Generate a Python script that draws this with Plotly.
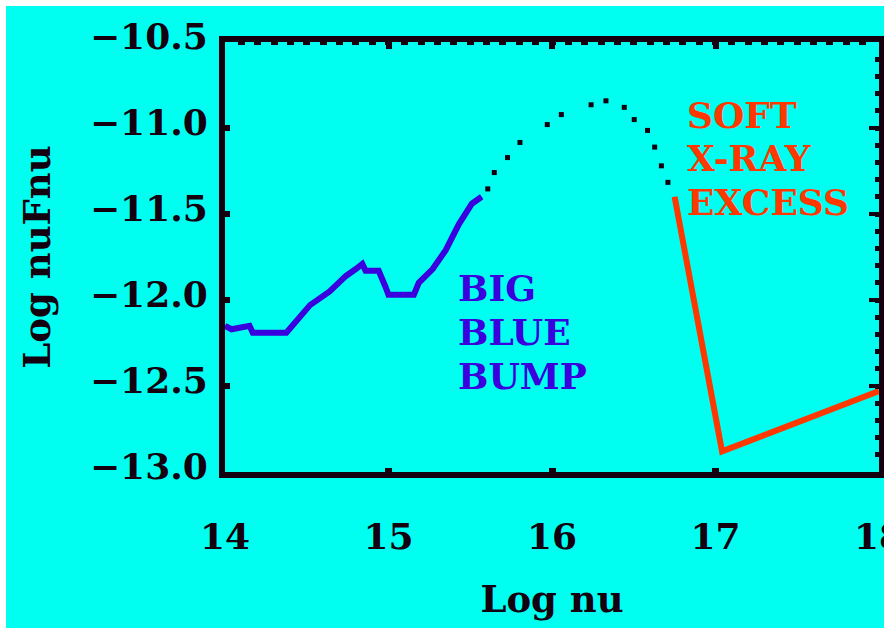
import plotly.graph_objects as go

# ---------------- data ----------------
bbb_x = [14.00, 14.04, 14.15, 14.17, 14.375, 14.52, 14.64, 14.74, 14.80, 14.84,
         14.86, 14.94, 14.98, 15.00, 15.155, 15.185, 15.27, 15.35, 15.43, 15.51, 15.57]
bbb_y = [-12.15, -12.17, -12.15, -12.19, -12.19, -12.03, -11.95, -11.86, -11.82, -11.79,
         -11.83, -11.83, -11.92, -11.97, -11.97, -11.90, -11.82, -11.71, -11.56, -11.44, -11.40]

model_x = [15.607, 15.647, 15.728, 15.804, 15.971, 16.057, 16.239, 16.330,
           16.442, 16.503, 16.584, 16.628, 16.669, 16.709]
model_y = [-11.354, -11.259, -11.172, -11.084, -10.980, -10.922, -10.865, -10.842,
           -10.880, -10.951, -11.014, -11.111, -11.220, -11.316]

sxe_x = [16.75, 17.04, 18.0]
sxe_y = [-11.40, -12.88, -12.53]

x_ticks = [14, 15, 16, 17, 18]
x_ticktext = ["14", "15", "16", "17", "18"]
y_ticks = [-13.0, -12.5, -12.0, -11.5, -11.0, -10.5]
y_ticktext = ["\u221213.0", "\u221212.5", "\u221212.0", "\u221211.5", "\u221211.0", "\u221210.5"]

bbb_label = ["BIG", "BLUE", "BUMP"]
bbb_label_y = [-11.931, -12.187, -12.444]
sxe_label = ["SOFT", "X-RAY", "EXCESS"]
sxe_label_y = [-10.923, -11.173, -11.429]

# ---------------- style ----------------
CYAN = "#00FFF0"
INK = "#14000F"
BLUE = "#3A00DD"
RED = "#FF3800"
FONT = "DejaVu Serif"

fig = go.Figure()
fig.add_trace(go.Scatter(x=bbb_x, y=bbb_y, mode="lines",
                         line=dict(color=BLUE, width=6), showlegend=False))
fig.add_trace(go.Scatter(x=model_x, y=model_y, mode="markers",
                         marker=dict(color=INK, symbol="square", size=5), showlegend=False))
fig.add_trace(go.Scatter(x=sxe_x, y=sxe_y, mode="lines",
                         line=dict(color=RED, width=6), showlegend=False))
# dummy trace to draw the top/right tick axes
fig.add_trace(go.Scatter(x=[None], y=[None], xaxis="x2", yaxis="y2",
                         showlegend=False, hoverinfo="skip"))

for i, t in enumerate(bbb_label):
    fig.add_annotation(x=15.413, y=bbb_label_y[i], xref="x", yref="y", text=t,
                       showarrow=False, xanchor="left", yanchor="middle",
                       font=dict(family=FONT, size=36, color=BLUE, weight="bold"))
for i, t in enumerate(sxe_label):
    fig.add_annotation(x=16.813, y=sxe_label_y[i], xref="x", yref="y", text=t,
                       showarrow=False, xanchor="left", yanchor="middle",
                       font=dict(family=FONT, size=36, color=RED, weight="bold"))

tickfont = dict(family=FONT, size=36, color=INK, weight="bold")
titlefont = dict(family=FONT, size=37, color=INK, weight="bold")

fig.update_layout(
    width=884, height=631,
    margin=dict(l=225, r=5, t=42, b=159, pad=0, autoexpand=False),
    paper_bgcolor="white",
    plot_bgcolor=CYAN,
    xaxis=dict(range=[14, 18], tickvals=x_ticks, ticktext=x_ticktext,
               showline=True, linecolor=INK, linewidth=6, mirror=True,
               ticks="inside", ticklen=4, tickwidth=7, tickcolor=INK,
               showgrid=False, zeroline=False, tickfont=tickfont, automargin=False,
               ticklabelstandoff=28, ticklabeloverflow="allow",
               title=dict(text="Log nu", font=titlefont, standoff=32)),
    yaxis=dict(range=[-13.0, -10.5], tickvals=y_ticks, ticktext=y_ticktext,
               showline=True, linecolor=INK, linewidth=6, mirror=True,
               ticks="inside", ticklen=5, tickwidth=6, tickcolor=INK,
               showgrid=False, zeroline=False, tickfont=tickfont, automargin=False,
               ticklabelstandoff=4, ticklabelshift=-6,
               title=dict(text="Log nuFnu", font=titlefont, standoff=30)),
    xaxis2=dict(range=[14, 18], overlaying="x", side="top", anchor="y2",
                tickvals=[15, 16, 17], showticklabels=False, ticks="inside",
                ticklen=7, tickwidth=6, tickcolor=INK, showline=False,
                showgrid=False, zeroline=False, automargin=False,
                minor=dict(dtick=0.1, tick0=14, ticks="inside", ticklen=3,
                           tickwidth=7, tickcolor=INK, showgrid=False)),
    yaxis2=dict(range=[-13.0, -10.5], overlaying="y", side="right", anchor="x2",
                tickvals=[-12.5, -12.0, -11.5, -11.0], showticklabels=False,
                ticks="inside", ticklen=10, tickwidth=4, tickcolor=INK,
                showline=False, showgrid=False, zeroline=False, automargin=False,
                minor=dict(dtick=0.1, tick0=-13, ticks="inside", ticklen=4,
                           tickwidth=5, tickcolor=INK, showgrid=False)),
    shapes=[dict(type="rect", xref="paper", yref="paper",
                 x0=(6 - 225) / 654, x1=(890 - 225) / 654,
                 y0=(472 - 628) / 430, y1=(472 - 6) / 430,
                 fillcolor=CYAN, line=dict(width=0), layer="below")],
)

fig.write_html("out.html")
